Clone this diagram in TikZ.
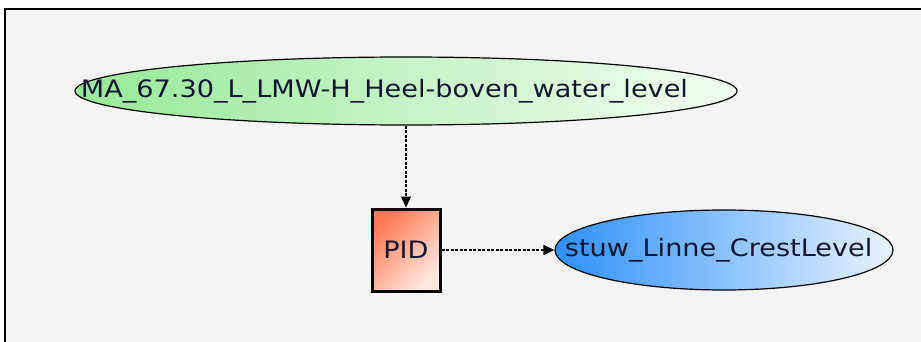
\documentclass[tikz,border=0pt]{standalone}
\usepackage{fontspec}
\setmainfont[FakeStretch=1.13]{DejaVu Sans}
\usetikzlibrary{shapes.geometric,arrows.meta}
\definecolor{paneback}{HTML}{F4F4F4}
\definecolor{labelink}{HTML}{161632}
\definecolor{gaugeleft}{HTML}{98E898}
\definecolor{gaugeright}{HTML}{F2FFF2}
\definecolor{crestleft}{HTML}{2E90F8}
\definecolor{crestright}{HTML}{E8F3FF}
\definecolor{pidtop}{HTML}{FF7A52}
\definecolor{pidbottom}{HTML}{FFE8E0}
\tikzset{
    varnode/.style={ellipse,draw=black,line width=1.2pt,inner sep=0pt},
    pidbox/.style={rectangle,draw=black,line width=3pt,inner sep=0pt,
        minimum width=68pt,minimum height=82pt,
        shading=axis,top color=pidtop,bottom color=pidbottom,shading angle=45},
    link/.style={line width=1.3pt,dash pattern=on 3pt off 1.5pt,
        -{Triangle[length=11pt,width=10pt]}}
}
\begin{document}
\begin{tikzpicture}[x=1pt,y=-1pt,font=\fontsize{24}{28}\selectfont,text=labelink]
    \useasboundingbox (0,0) rectangle (921,342);
    \draw[line width=2pt,fill=paneback] (5,9) rectangle (930,350);  % Rahmen

    \node[varnode,minimum width=662pt,minimum height=68pt,
          left color=gaugeleft,right color=gaugeright,
          label={[anchor=west,xshift=3pt,text=labelink]west:MA\_67.30\_L\_LMW-H\_Heel-boven\_water\_level}]
          (gauge) at (406,91) {};
    \node[pidbox] (pid) at (406,250) {PID};
    \node[varnode,minimum width=338pt,minimum height=80pt,
          left color=crestleft,right color=crestright,
          label={[anchor=west,xshift=7pt,text=labelink]west:stuw\_Linne\_CrestLevel}]
          (crest) at (724,250) {};

    \draw[link] (gauge.south) -- (pid.north);
    \draw[link] (pid.east) -- (crest.west);
\end{tikzpicture}
\end{document}
